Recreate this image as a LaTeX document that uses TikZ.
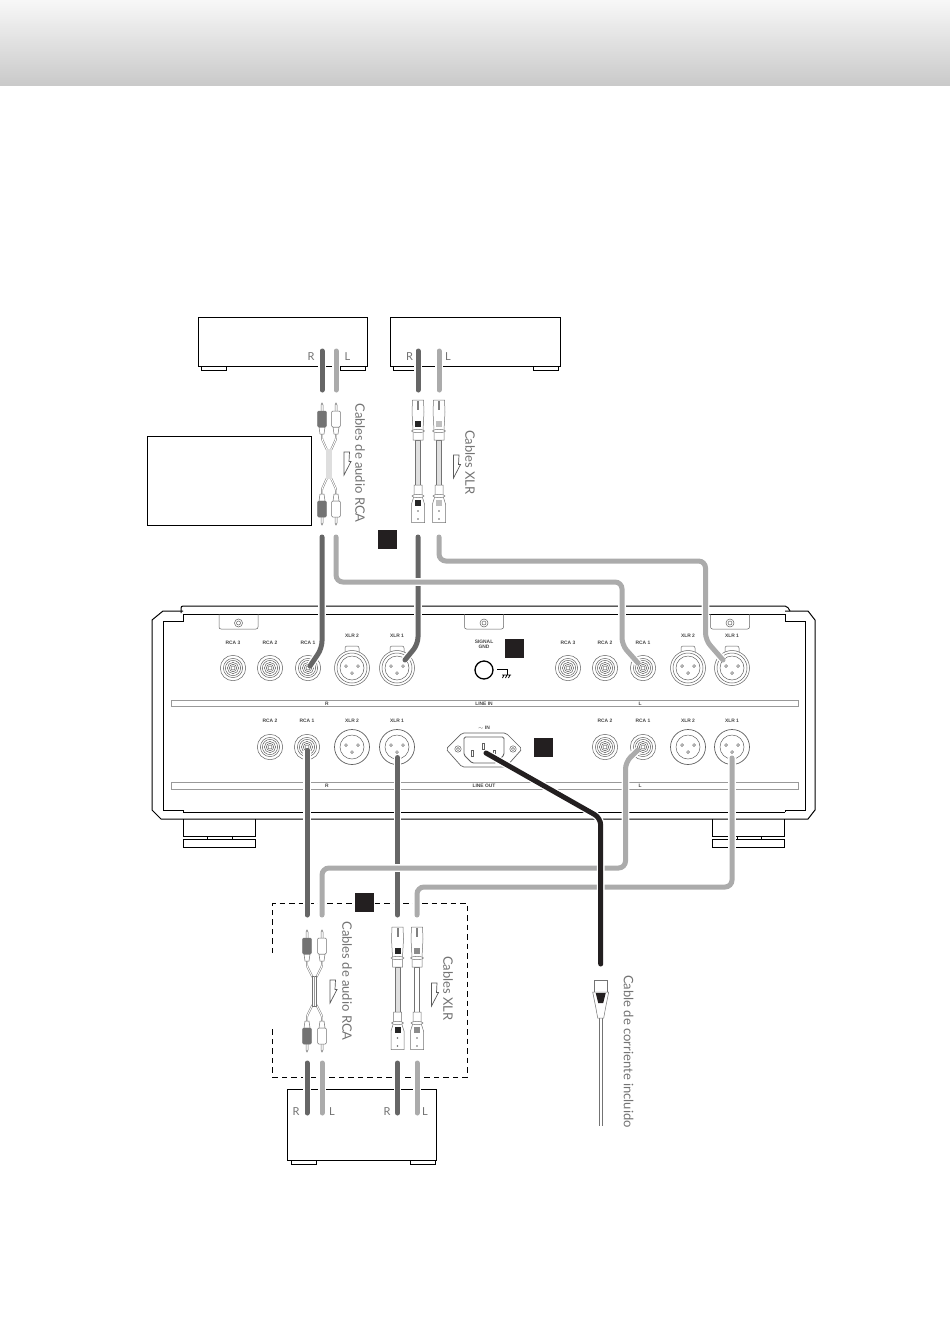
\documentclass[tikz,border=0pt]{standalone}
\usepackage{fontspec}
\setmainfont{Lato}
\newfontfamily\panelfont{Liberation Sans}
\definecolor{mdark}{HTML}{666666}
\definecolor{mlight}{HTML}{ABABAB}
\definecolor{mblack}{HTML}{231F20}
\tikzset{
  unitbox/.style={draw=black, fill=white, line width=1pt},
  panelline/.style={draw=black, line width=1pt},
  jackline/.style={draw=black!62, line width=.5pt},
  plugline/.style={draw=black!55, line width=.5pt},
  cableR/.style={draw=mdark, line width=5pt, line cap=round, rounded corners=7pt,
    preaction={draw=white, line width=7.6pt}},
  cableL/.style={cableR, draw=mlight},
  cablePower/.style={cableR, draw=mblack},
  stripline/.style={draw=black!40, line width=.8pt},
  marksquare/.style={fill=mblack, minimum size=19pt, inner sep=0pt},
  paneltext/.style={font=\panelfont\bfseries\fontsize{4.9}{5.2}\selectfont, text=black!72, align=center, inner sep=0pt},
  sidetext/.style={font=\fontsize{13}{13}\selectfont, text=black!55, rotate=-90, inner sep=0pt},
  chantext/.style={font=\fontsize{11}{12}\selectfont, text=black!55, inner sep=0pt},
  rcajack/.pic={
    \foreach \r in {12.7, 9.6, 7.6, 5.6, 3.7, 2}
      \draw [jackline] (0,0) circle (\r pt);
  },
  xlrmale/.pic={
    \draw [jackline, line width=.7pt] (0,0) circle (17.5pt);
    \draw [jackline] (0,0) circle (12pt);
    \foreach \p in {(-6,-2), (6,-2), (0,5)}
      \draw [jackline] \p circle (1.4pt);
  },
  xlrfemale/.pic={
    \draw [jackline, rounded corners=2pt] (-7,-14) -- (-7,-22) -- (7,-22) -- (7,-14);
    \draw [jackline, fill=white] (0,0) circle (17.5pt);
    \draw [jackline] (0,0) circle (15pt);
    \draw [jackline] (0,0) circle (12pt);
    \foreach \p in {(-6,-2), (6,-2), (0,5)}
      \draw [jackline] \p circle (1.4pt);
  },
  screwtab/.pic={
    \draw [jackline, rounded corners=2pt] (-19.5,0) -- (-19.5,15) -- (19.5,15) -- (19.5,0);
    \draw [jackline] (0,9) circle (4pt);
    \draw [jackline] (0,9) circle (2pt);
  },
  hollowarrow/.pic={
    \draw [draw=black!65, line width=.7pt, line join=miter] (0,0) -- (5.5,0) -- (5,9.5) -- (7,9.5) -- (0,23) -- cycle;
  },
}
% one xlr lead: x, y of the top, colour of the windows, fill of the wire
\newcommand{\xlrlead}[4]{
  \begin{scope}[shift={(#1,#2)}]
    \draw [plugline, fill=#4] (-2.4,40) rectangle (2.4,85);
    \draw [plugline, fill=white] (-5.5,0) -- (5.5,0) -- (6,12) -- (5,30) -- (5,40) -- (-5,40) -- (-5,30) -- (-6,12) -- cycle;
    \fill [black!50] (-1,1) rectangle (1,10);
    \fill [#3] (-3,21) rectangle (3,27);
    \draw [plugline, fill=white] (0,31) ellipse (6.5pt and 1.6pt);
    \draw [plugline, fill=white] (-4,85) -- (-4,96) -- (-6.5,104) -- (-6.5,122.5) -- (6.5,122.5) -- (6.5,104) -- (4,96) -- (4,85) -- cycle;
    \draw [plugline, fill=white] (0,96) ellipse (6pt and 1.6pt);
    \fill [#3] (-3,100) rectangle (3,106);
    \fill [black!60] (0,111) circle (.9pt) (0,119) circle (.9pt);
  \end{scope}
}
% half of an rca lead, tip at y=0: spread, sleeve colour
\newcommand{\rcahalf}[2]{
  \foreach \s/\c in {-1/#2, 1/white} {
    \draw [plugline, line width=1.9pt, rounded corners=1pt] (\s*#1,30) -- (\s*#1,36) -- (\s*2,47);
    \draw [draw=white, line width=1pt, rounded corners=1pt] (\s*#1,30) -- (\s*#1,36) -- (\s*2,47);
    \draw [plugline, fill=white] (\s*#1-1,9) -- (\s*#1-1,2) -- (\s*#1,0) -- (\s*#1+1,2) -- (\s*#1+1,9);
    \draw [plugline, fill=white] (\s*#1-3,24) -- (\s*#1-2,31) -- (\s*#1+2,31) -- (\s*#1+3,24) -- cycle;
    \draw [plugline, fill=\c, rounded corners=1pt] (\s*#1-4.3,8) rectangle (\s*#1+4.3,24);
  }
}
% whole rca lead: centre x, y of the tips, spread, fill of the shared part
\newcommand{\rcalead}[4]{
  \begin{scope}[shift={(#1,#2)}]
    \rcahalf{#3}{black!55}
    \begin{scope}[shift={(0,122)}, yscale=-1]
      \rcahalf{#3}{black!55}
    \end{scope}
    #4
  \end{scope}
}
\begin{document}
\begin{tikzpicture}[x=1pt, y=-1pt]
  \useasboundingbox (0,0) rectangle (950,1344);
  \fill [white] (0,0) rectangle (950,1344);
  \shade [top color=black!3, bottom color=black!21] (0,0) rectangle (950,85.5);

  % source units
  \draw [unitbox] (201,366) rectangle (226,370.5);
  \draw [unitbox] (340,366) rectangle (365.5,370.5);
  \draw [unitbox] (198,317.5) rectangle (367.5,366);
  \draw [unitbox] (393,366) rectangle (418,370.5);
  \draw [unitbox] (533,366) rectangle (558,370.5);
  \draw [unitbox] (390.5,317.5) rectangle (560.5,366);
  \node [chantext] (srcaR) at (311,356.5) {R};
  \node [chantext] (srcaL) at (347.5,356.5) {L};
  \node [chantext] (sxlrR) at (409.5,356.5) {R};
  \node [chantext] (sxlrL) at (448,356.5) {L};

  \draw [unitbox] (147,436.5) rectangle (311.5,525);

  % destination unit
  \draw [unitbox] (291,1160) rectangle (316,1164);
  \draw [unitbox] (410,1160) rectangle (435,1164);
  \draw [unitbox] (287.5,1089) rectangle (436.5,1160);
  \node [chantext] (drcaR) at (296,1111.5) {R};
  \node [chantext] (drcaL) at (332,1111.5) {L};
  \node [chantext] (dxlrR) at (387,1111.5) {R};
  \node [chantext] (dxlrL) at (425,1111.5) {L};
  \draw [black, line width=.9pt, dash pattern=on 5.5pt off 4pt] (272.5,953) -- (272.5,903) -- (467,903) -- (467,1077) -- (272.5,1077) -- (272.5,1027);

  % the unit seen from behind
  \draw [panelline] (183,614) -- (183,621) -- (163,621) -- (163,810) -- (183,810) -- (183,812);
  \draw [panelline] (183,611) -- (163,611) -- (152,620) -- (152,810) -- (161,819) -- (808,819) -- (815,810) -- (815,620) -- (808,611) -- (785,611);
  \draw [panelline] (785,614) -- (785,621) -- (805,621) -- (805,810) -- (785,810) -- (785,812);
  \draw [panelline, rounded corners=2pt] (181,613) -- (181,606) -- (787,606) -- (790,611);
  \draw [panelline] (183,614) -- (785,614);
  \draw [panelline] (183,812) -- (785,812);
  \draw [panelline] (183,819) -- (183,836.5) -- (255.5,836.5) -- (255.5,819);
  \draw [panelline] (183,839.5) rectangle (255.5,847);
  \draw [panelline, line width=.7pt] (207,836.5) -- (207,839.5) (232,836.5) -- (232,839.5);
  \draw [panelline] (712,819) -- (712,836.5) -- (784.5,836.5) -- (784.5,819);
  \draw [panelline] (712,839.5) rectangle (784.5,847);
  \draw [panelline, line width=.7pt] (737,836.5) -- (737,839.5) (761,836.5) -- (761,839.5);

  \pic at (238.5,614) {screwtab};
  \pic at (484,614) {screwtab};
  \pic at (730,614) {screwtab};

  \draw [stripline] (171,700.5) rectangle (798,706.5);
  \draw [stripline] (171,782.5) rectangle (798,789);
  \node [paneltext] (stripinR) at (327,703.5) {R};
  \node [paneltext, fill=white, inner xsep=2pt] (stripin) at (484,703.5) {LINE IN};
  \node [paneltext] (stripinL) at (640,703.5) {L};
  \node [paneltext] (stripoutR) at (327,786) {R};
  \node [paneltext, fill=white, inner xsep=2pt] (stripout) at (484,786) {LINE OUT};
  \node [paneltext] (stripoutL) at (640,786) {L};

  % line in
  \foreach \x/\t in {233/RCA 3, 270/RCA 2, 308/RCA 1, 568/RCA 3, 605/RCA 2, 643/RCA 1} {
    \pic at (\x,668) {rcajack};
    \node [paneltext] (in\x) at (\x,642.5) {\t};
  }
  \foreach \x/\t in {352/XLR 2, 397/XLR 1, 688/XLR 2, 732/XLR 1} {
    \pic at (\x,668) {xlrfemale};
    \node [paneltext] (in\x) at (\x,635.5) {\t};
  }
  % line out
  \foreach \x/\t in {270/RCA 2, 307/RCA 1, 605/RCA 2, 643/RCA 1} {
    \pic at (\x,747) {rcajack};
    \node [paneltext] (out\x) at (\x,720.5) {\t};
  }
  \foreach \x/\t in {352/XLR 2, 397/XLR 1, 688/XLR 2, 732/XLR 1} {
    \pic at (\x,747) {xlrmale};
    \node [paneltext] (out\x) at (\x,720.5) {\t};
  }

  % signal ground
  \node [paneltext] (gndtext) at (484,644) {SIGNAL\\GND};
  \draw [black, line width=1.3pt] (484,670) circle (9pt);
  \draw [black, line width=.7pt] (497,669) -- (507,669) -- (507,675);
  \draw [black, line width=.7pt] (502,675) -- (511,675) (504,675) -- (502.5,678) (507,675) -- (505.5,678) (510,675) -- (508.5,678);

  % power inlet
  \node [paneltext] (inlettext) at (484,727.5) {$\sim$ IN};
  \draw [jackline, line width=.7pt, rounded corners=2pt] (446,749) -- (462,733) -- (506,733) -- (522,749) -- (506,767) -- (462,767) -- cycle;
  \draw [jackline, line width=.9pt, rounded corners=1.5pt] (464,737) -- (504,737) -- (504,755) -- (496,763) -- (472,763) -- (464,755) -- cycle;
  \draw [jackline] (458,749) circle (3.2pt) (458,749) circle (1.6pt);
  \draw [jackline] (513,749) circle (3.2pt) (513,749) circle (1.6pt);
  \draw [jackline] (471.5,750.5) rectangle (473.5,756) (482,743) rectangle (484.5,749.5) (493,750.5) rectangle (495,756);

  % cable ends at the panel
  \coordinate (inRrca) at (310,666);
  \coordinate (inRxlr) at (405,660);
  \coordinate (inLrca) at (638,663);
  \coordinate (inLxlr) at (723,660);
  \coordinate (outRrca) at (307,750.5);
  \coordinate (outRxlr) at (397.5,757.5);
  \coordinate (outLrca) at (638,750);
  \coordinate (outLxlr) at (732,758);
  \coordinate (inlet) at (486,753);
  % cable ends at the drawn leads
  \coordinate (leadRrca) at (322,537);
  \coordinate (leadLrca) at (336,537);
  \coordinate (leadRxlr) at (418,537);
  \coordinate (leadLxlr) at (439,537);
  \coordinate (lowRrca) at (307,915);
  \coordinate (lowLrca) at (322,915);
  \coordinate (lowRxlr) at (397.5,915);
  \coordinate (lowLxlr) at (417,915);
  \coordinate (plugPower) at (600.7,964);

  \draw [cableR] (leadRrca) -- (322,648) -- (inRrca);
  \draw [cableR] (leadRxlr) -- (418,644) -- (inRxlr);
  \draw [cableL] (leadLrca) -- (336,582) -- (622,582) -- (622,645) -- (inLrca);
  \draw [cableL] (leadLxlr) -- (439,561) -- (705.5,561) -- (705.5,640) -- (inLxlr);
  \draw [cableR] (outRrca) -- (lowRrca);
  \draw [cableR] (outRxlr) -- (lowRxlr);
  \draw [cableL] (outLrca) -- (625.5,762) -- (625.5,868) -- (322,868) -- (lowLrca);
  \draw [cableL] (outLxlr) -- (732,887) -- (417,887) -- (lowLxlr);
  \draw [cablePower] (inlet) -- (600.7,818) -- (plugPower);

  % short pieces at the units
  \draw [cableR] (322,351) -- (322,390);
  \draw [cableL] (336,351) -- (336,390);
  \draw [cableR] (418,351) -- (418,390);
  \draw [cableL] (439,351) -- (439,390);
  \draw [cableR] (307,1063) -- (307,1113);
  \draw [cableL] (322,1063) -- (322,1113);
  \draw [cableR] (397.5,1063) -- (397.5,1113);
  \draw [cableL] (417,1063) -- (417,1113);

  % leads
  \rcalead{329}{403}{7}{\fill [black!13] (-3.4,46) rectangle (3.4,76);}
  \rcalead{314.5}{930}{7.5}{\draw [plugline, fill=white] (-2,46) rectangle (2,76); \draw [plugline, black!40] (0,46) -- (0,76);}
  \xlrlead{418}{400}{black!85}{black!12}
  \xlrlead{439}{400}{black!25}{black!12}
  \xlrlead{397.5}{927}{black!85}{black!12}
  \xlrlead{417}{927}{black!45}{white}

  % mains plug
  \begin{scope}[shift={(600.7,980)}]
    \draw [plugline] (-1.5,35) -- (-1.5,146) (1.5,35) -- (1.5,146);
    \draw [plugline, fill=white] (-6.5,0) rectangle (6.5,12);
    \draw [plugline, fill=white] (-8,12) -- (8,12) -- (5,27) -- (3,38) -- (-3,38) -- (-5,27) -- cycle;
    \fill [mblack] (-5,13) -- (5,13) -- (2.5,23) -- (-2.5,23) -- cycle;
  \end{scope}

  \pic at (344,452) {hollowarrow};
  \pic at (453.5,455) {hollowarrow};
  \pic at (330,980) {hollowarrow};
  \pic at (431.5,983) {hollowarrow};

  \node [sidetext] (textA) at (360,463) {Cables de audio RCA};
  \node [sidetext] (textB) at (470,462.5) {Cables XLR};
  \node [sidetext] (textC) at (347,981) {Cables de audio RCA};
  \node [sidetext] (textD) at (448,988.5) {Cables XLR};
  \node [sidetext] (textE) at (628.5,1051.5) {Cable de corriente incluido};

  \node [marksquare] (markA) at (387.5,539) {};
  \node [marksquare] (markB) at (514.5,648) {};
  \node [marksquare] (markC) at (543.5,747.5) {};
  \node [marksquare] (markD) at (364.5,902.5) {};
\end{tikzpicture}
\end{document}
